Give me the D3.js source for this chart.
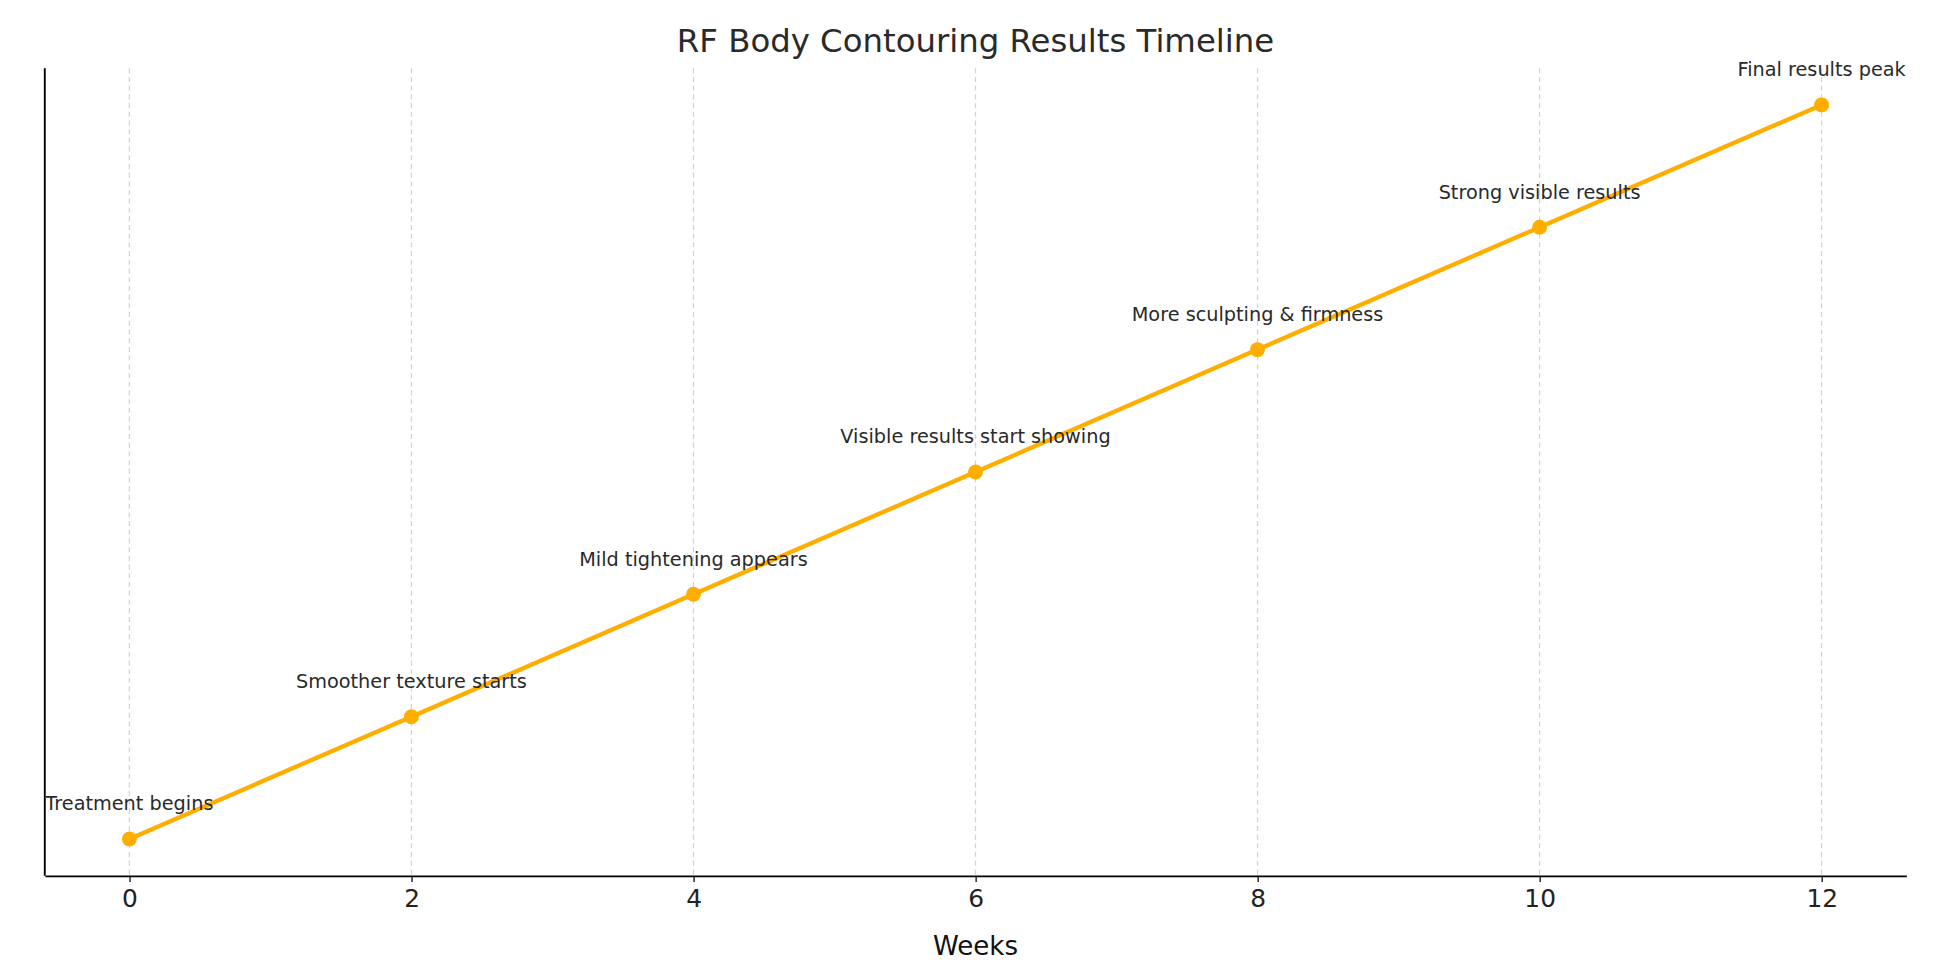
<!DOCTYPE html>
<html><head><meta charset="utf-8">
<script src="https://cdn.jsdelivr.net/npm/d3@7"></script>
<style>body{margin:0;background:#fff}svg{display:block}</style>
</head><body>
<svg id="chart"></svg>
<script>
var weeks = [0, 2, 4, 6, 8, 10, 12];
var progress = [1, 2, 3, 4, 5, 6, 7];
var labels = ["Treatment begins", "Smoother texture starts", "Mild tightening appears",
	"Visible results start showing", "More sculpting & firmness", "Strong visible results", "Final results peak"];
var xTicks = [0, 2, 4, 6, 8, 10, 12];

var W = 1568, H = 784;
var svg = d3.select("#chart").attr("width", 1951).attr("height", 980)
	.attr("viewBox", "0 0 " + W + " " + H)
	.style("font-family", "'DejaVu Sans', sans-serif");

var mLeft = 36, mRight = 1532, mTop = 53, mBottom = 702;
var x = d3.scaleLinear().domain([-0.6, 12.6]).range([mLeft, mRight]);
var y = d3.scaleLinear().domain([0.7, 7.3]).range([mBottom, mTop]);

// vertical dashed grid
svg.selectAll(".grid").data(xTicks).enter().append("line")
	.attr("x1", d => x(d)).attr("x2", d => x(d))
	.attr("y1", mTop).attr("y2", mBottom)
	.attr("stroke", "#d3d3d3").attr("stroke-width", 1).attr("stroke-dasharray", "4,3");

var xAxis = svg.append("g").attr("transform", "translate(0," + mBottom + ")")
	.call(d3.axisBottom(x).tickValues(xTicks).tickSize(5).tickSizeOuter(0).tickPadding(6));
xAxis.attr("font-size", 20).attr("font-family", "'DejaVu Sans', sans-serif");
xAxis.select(".domain").attr("stroke", "#000").attr("stroke-width", 1.5);
xAxis.selectAll("text").attr("fill", "#222");

svg.append("line").attr("x1", mLeft).attr("x2", mLeft).attr("y1", mTop).attr("y2", mBottom)
	.attr("stroke", "#000").attr("stroke-width", 1.5);

var line = d3.line().x((d, i) => x(weeks[i])).y(d => y(d));
svg.append("path").datum(progress).attr("d", line)
	.attr("fill", "none").attr("stroke", "#FFAE00").attr("stroke-width", 3.5);

svg.selectAll(".pt").data(progress).enter().append("circle")
	.attr("cx", (d, i) => x(weeks[i])).attr("cy", d => y(d)).attr("r", 6)
	.attr("fill", "#FFAE00");

svg.selectAll(".lbl").data(labels).enter().append("text")
	.attr("x", (d, i) => x(weeks[i])).attr("y", (d, i) => y(progress[i]) - 23)
	.attr("text-anchor", "middle").attr("font-size", 15.5).attr("fill", "#2a2a2a")
	.text(d => d);

svg.append("text").attr("x", (mLeft + mRight) / 2).attr("y", 40)
	.attr("text-anchor", "middle").attr("font-size", 26).attr("fill", "#2a2a2a")
	.text("RF Body Contouring Results Timeline");

svg.append("text").attr("x", (mLeft + mRight) / 2).attr("y", 766)
	.attr("text-anchor", "middle").attr("font-size", 21).attr("fill", "#111")
	.text("Weeks");
</script>
</body></html>
